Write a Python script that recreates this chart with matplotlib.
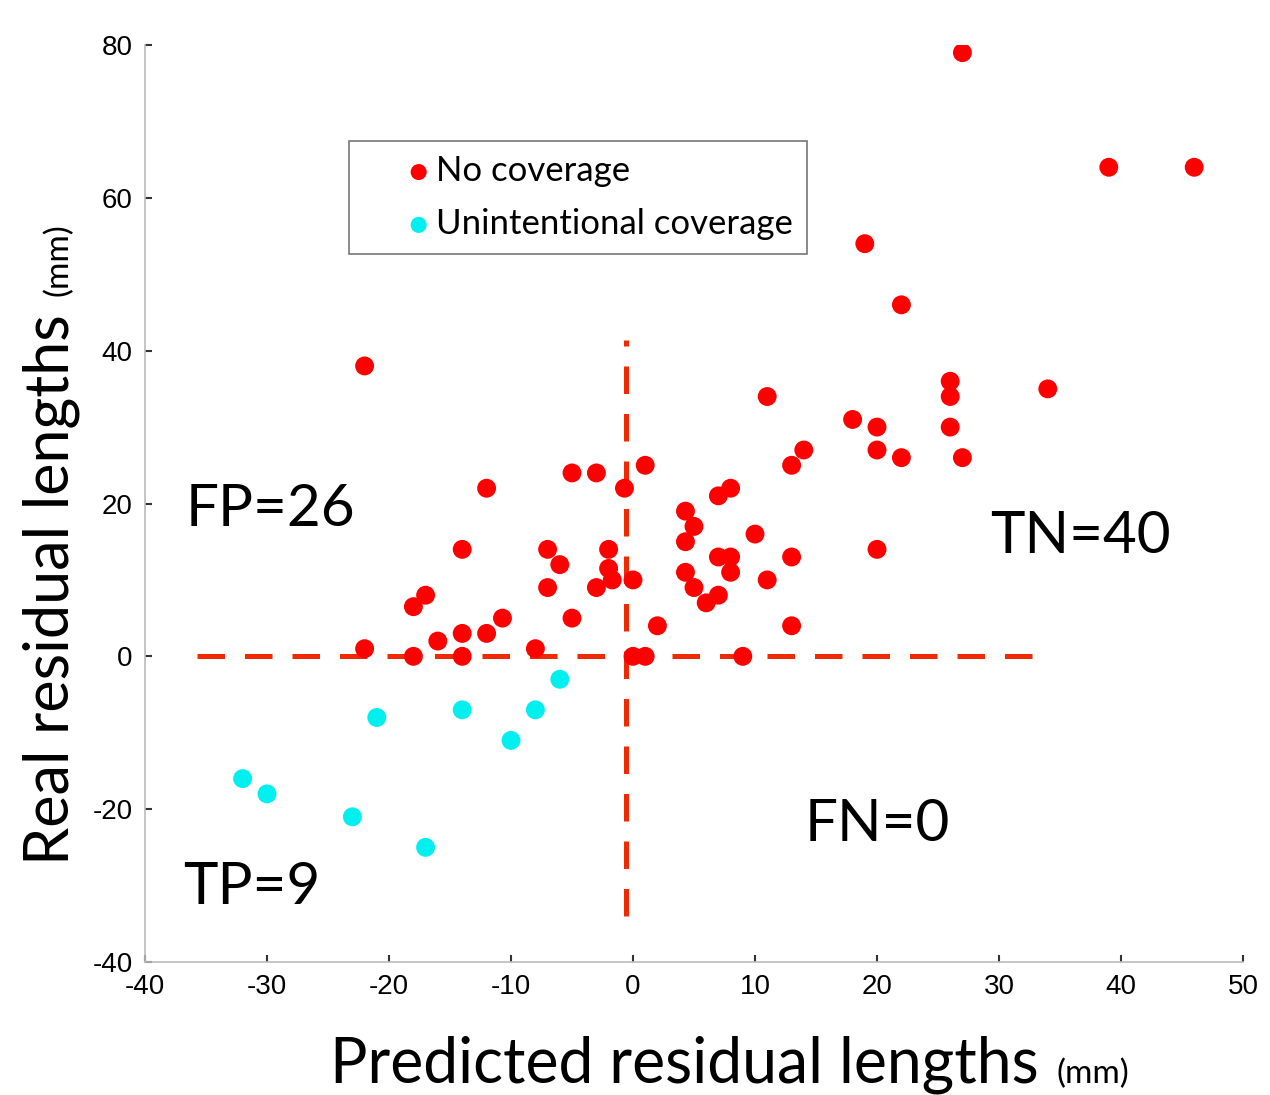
import matplotlib
matplotlib.use("Agg")
import matplotlib.pyplot as plt

plt.rcParams['axes.unicode_minus'] = False

# red: no coverage
no_cov_x = [-22, -12, -14, -7, -6, -7, -17, -18, -10.7, -12, -14, -16, -22, -18, -14, -8,
            -5, -3, -0.7, -2, -2, -1.7, -3, -5,
            0, 0, 1, 1, 2, 4.3, 5, 4.3, 4.3, 5, 6, 7, 7, 8, 8, 7, 8, 9, 10, 11, 11, 13, 14,
            13, 13, 18, 19, 20, 20, 20, 22, 22, 26, 26, 26, 27, 27, 34, 39, 46]
no_cov_y = [38, 22, 14, 14, 12, 9, 8, 6.5, 5, 3, 3, 2, 1, 0, 0, 1,
            24, 24, 22, 14, 11.5, 10, 9, 5,
            10, 0, 0, 25, 4, 19, 17, 15, 11, 9, 7, 8, 13, 13, 11, 21, 22, 0, 16, 10, 34, 25, 27,
            13, 4, 31, 54, 30, 27, 14, 46, 26, 36, 34, 30, 26, 79, 35, 64, 64]

# cyan: unintentional coverage
unint_x = [-32, -30, -23, -17, -21, -14, -8, -10, -6]
unint_y = [-16, -18, -21, -25, -8, -7, -7, -11, -3]

# threshold lines
h_line_x = [-35.7, 34.2]
v_line_y = [-34, 41.4]
v_line_at = -0.6

quadrants = [("FP=26", -36.7, 19.2), ("TN=40", 29.3, 15.7),
             ("FN=0", 14.1, -22.0), ("TP=9", -36.9, -30.2)]

xticks = [-40, -30, -20, -10, 0, 10, 20, 30, 40, 50]
yticks = [-40, -20, 0, 20, 40, 60, 80]

W, H = 1270, 1095
fig = plt.figure(figsize=(W / 100, H / 100), dpi=100)
ax = fig.add_axes([145 / W, 1 - 962 / H, 1098 / W, 917 / H])

line_col = '#f02a00'
ax.plot(h_line_x, [0, 0], '--', color=line_col, lw=3.6, dashes=(5.5, 4), zorder=1)
ax.plot([v_line_at, v_line_at], v_line_y, '--', color=line_col, lw=3.6, dashes=(5.5, 4), zorder=1)

ax.scatter(no_cov_x, no_cov_y, s=185, color='#ff0000', edgecolors='none', zorder=3,
           label='No coverage')
ax.scatter(unint_x, unint_y, s=185, color='#00f0f0', edgecolors='none', zorder=3,
           label='Unintentional coverage')

for txt, tx, ty in quadrants:
    ax.text(tx, ty, txt, fontsize=42, family='Lato', ha='left', va='center')

ax.set_xlim(-40, 50)
ax.set_ylim(-40, 80)
ax.set_xticks(xticks)
ax.set_yticks(yticks)
ax.tick_params(direction='in', length=5, width=1.5, color='#333333',
               labelsize=20, pad=9)
for lab in ax.get_xticklabels() + ax.get_yticklabels():
    lab.set_family('Liberation Sans')
for s in ['top', 'right']:
    ax.spines[s].set_visible(False)
for s in ['left', 'bottom']:
    ax.spines[s].set_color('#bbbbbb')
    ax.spines[s].set_linewidth(1.2)

leg = ax.legend(loc='upper left', bbox_to_anchor=(0.186, 0.895), fancybox=False,
                prop={'family': 'Lato', 'size': 25}, markerscale=0.85,
                handletextpad=-1.1, borderpad=0.4, labelspacing=0.6,
                handlelength=3.2, borderaxespad=0)
leg.get_frame().set_edgecolor('#555555')
leg.get_frame().set_linewidth(1.2)

# axis labels with small "(mm)"
xl = fig.text(330 / W, 1 - 1083 / H, 'Predicted residual lengths', fontsize=45,
              family='Lato', ha='left', va='baseline')
yl = fig.text(68 / W, 1 - 865 / H, 'Real residual lengths', fontsize=44, family='Lato',
              ha='left', va='baseline', rotation=90, rotation_mode='anchor')
fig.canvas.draw()
r = fig.canvas.get_renderer()
xb = xl.get_window_extent(r)
yb = yl.get_window_extent(r)
fig.text((xb.x1 + 18) / W, 1 - 1083 / H, '(mm)', fontsize=24, family='Lato',
         ha='left', va='baseline')
fig.text(68 / W, (yb.y1 + 18) / H, '(mm)', fontsize=24, family='Lato',
         ha='left', va='baseline', rotation=90, rotation_mode='anchor')

fig.savefig('out.png', dpi=100)
